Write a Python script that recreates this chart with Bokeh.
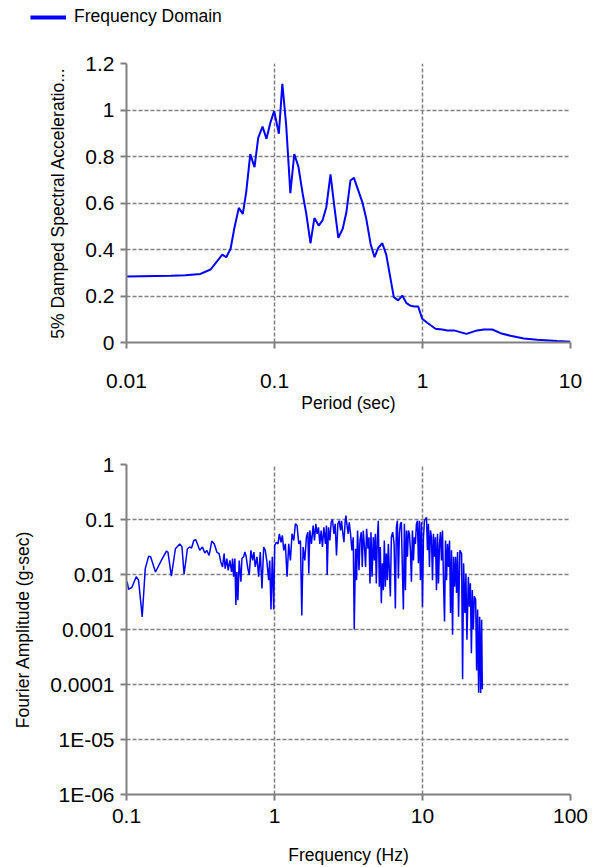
from bokeh.plotting import figure
from bokeh.models import (Range1d, FixedTicker, CustomJSTickFormatter, Legend,
                          LegendItem)
from bokeh.layouts import column
from bokeh.embed import file_html
from bokeh.resources import INLINE

FONT = "Liberation Sans"
BLUE = "#0000ff"
GRAY = "#808080"

# ---------------- data: response spectrum ----------------
period = [0.01, 0.02, 0.025, 0.0316, 0.037, 0.0444, 0.0472, 0.0505, 0.0537, 0.0574,
          0.0611, 0.0644, 0.0686, 0.0733, 0.0776, 0.083, 0.0883, 0.094, 0.0995, 0.107,
          0.113, 0.12, 0.128, 0.136, 0.145, 0.155, 0.164, 0.175, 0.186, 0.199,
          0.211, 0.224, 0.239, 0.254, 0.27, 0.289, 0.306, 0.326, 0.344, 0.368,
          0.392, 0.417, 0.446, 0.474, 0.502, 0.535, 0.569, 0.64, 0.685, 0.73,
          0.78, 0.83, 0.883, 0.935, 0.995, 1.076, 1.224, 1.36, 1.47, 1.63,
          1.98, 2.34, 2.6, 2.96, 3.37, 3.93, 4.83, 5.95, 8.13, 10.0]
spectral_acc = [0.284, 0.287, 0.289, 0.295, 0.314, 0.378, 0.367, 0.403, 0.496, 0.579,
                0.553, 0.647, 0.81, 0.754, 0.88, 0.929, 0.876, 0.948, 0.995, 0.898,
                1.113, 0.933, 0.642, 0.81, 0.757, 0.64, 0.553, 0.427, 0.535, 0.503,
                0.525, 0.582, 0.723, 0.582, 0.45, 0.489, 0.56, 0.697, 0.708, 0.654,
                0.604, 0.532, 0.424, 0.367, 0.407, 0.427, 0.378, 0.195, 0.181, 0.202,
                0.169, 0.158, 0.155, 0.155, 0.102, 0.085, 0.059, 0.056, 0.052, 0.052,
                0.037, 0.052, 0.056, 0.056, 0.04, 0.029, 0.017, 0.012, 0.006, 0.003]

# ---------------- data: Fourier amplitude spectrum ----------------
fourier_freq = [
    0.101, 0.1032, 0.1086, 0.1164, 0.1206, 0.1277, 0.1339, 0.141, 0.1455, 0.157,
    0.172, 0.186, 0.1906, 0.201, 0.214, 0.229, 0.237, 0.245, 0.258, 0.267,
    0.275, 0.285, 0.2936, 0.3014, 0.3126, 0.326, 0.338, 0.3486, 0.3614, 0.377,
    0.392, 0.4078, 0.4225, 0.4338, 0.4455, 0.4568, 0.4639, 0.4764, 0.4862, 0.4993,
    0.5127, 0.5208, 0.529, 0.5398, 0.5483, 0.557, 0.5657, 0.5774, 0.593, 0.6024,
    0.6185, 0.631, 0.644, 0.658, 0.675, 0.693, 0.7116, 0.7261, 0.741, 0.7611,
    0.7815, 0.8012, 0.823, 0.845, 0.866, 0.889, 0.913, 0.928, 0.947, 0.966,
    0.988, 1.003, 1.029, 1.056, 1.078, 1.107, 1.130, 1.155, 1.184, 1.216,
    1.248, 1.281, 1.314, 1.350, 1.384, 1.421, 1.459, 1.497, 1.529, 1.560,
    1.602, 1.643, 1.680, 1.705, 1.732, 1.776, 1.824, 1.862, 1.902, 1.941,
    1.982, 2.025, 2.066, 2.108, 2.155, 2.210, 2.244, 2.269, 2.316, 2.366,
    2.415, 2.465, 2.519, 2.571, 2.623, 2.681, 2.736, 2.794, 2.836, 2.881,
    2.945, 3.005, 3.038, 3.100, 3.149, 3.198, 3.264, 3.336, 3.404, 3.458,
    3.529, 3.585, 3.641, 3.723, 3.781, 3.857, 3.918, 3.979, 4.061, 4.125,
    4.190, 4.282, 4.349, 4.418, 4.487, 4.559, 4.652, 4.725, 4.800, 4.875,
    4.951, 5.029, 5.108, 5.189, 5.270, 5.353, 5.437, 5.523, 5.609, 5.698,
    5.787, 5.878, 5.971, 6.064, 6.160, 6.290, 6.431, 6.557, 6.660, 6.765,
    6.872, 6.980, 7.089, 7.200, 7.313, 7.428, 7.545, 7.663, 7.784, 7.906,
    8.031, 8.157, 8.285, 8.417, 8.549, 8.684, 8.820, 8.959, 9.100, 9.243,
    9.388, 9.536, 9.686, 9.838, 9.993, 10.15, 10.31, 10.47, 10.64, 10.80,
    10.97, 11.14, 11.32, 11.50, 11.68, 11.86, 12.05, 12.24, 12.43, 12.63,
    12.82, 13.03, 13.23, 13.44, 13.65, 13.87, 14.09, 14.31, 14.53, 14.76,
    15.00, 15.23, 15.47, 15.71, 15.96, 16.21, 16.47, 16.73, 16.99, 17.26,
    17.53, 17.89, 18.37, 18.66, 18.95, 19.35, 19.65, 19.96, 20.41, 20.73,
    21.06, 21.39, 21.71, 22.05, 22.40, 22.86, 23.22, 23.58, 23.95, 24.33,
    24.71, 25.09, 25.37]
fourier_amp = [
    0.0074, 0.0054, 0.0058, 0.0091, 0.0079, 0.0017, 0.0128, 0.0214, 0.021, 0.0111,
    0.018, 0.0267, 0.0256, 0.0093, 0.0294, 0.036, 0.032, 0.0101, 0.0294, 0.0316,
    0.0303, 0.0416, 0.043, 0.036, 0.0275, 0.0316, 0.0245, 0.0275, 0.0222, 0.0405,
    0.036, 0.0256, 0.024, 0.0169, 0.0137, 0.024, 0.0128, 0.0195, 0.0119, 0.018,
    0.0111, 0.0195, 0.0091, 0.0195, 0.0028, 0.0111, 0.0034, 0.018, 0.0074, 0.0195,
    0.021, 0.0256, 0.021, 0.0137, 0.0098, 0.0275, 0.018, 0.0256, 0.0137, 0.021,
    0.0091, 0.0256, 0.0056, 0.0316, 0.0275, 0.0169, 0.0079, 0.018, 0.0023, 0.021,
    0.0023, 0.0339, 0.0386, 0.036, 0.055, 0.0386, 0.0512, 0.0275, 0.036, 0.0091,
    0.036, 0.018, 0.055, 0.0416, 0.0833, 0.0776, 0.036, 0.0416, 0.0018, 0.0316,
    0.018, 0.0475, 0.0588, 0.0104, 0.0632, 0.036, 0.0776, 0.0416, 0.0833, 0.055,
    0.0722, 0.036, 0.0632, 0.0316, 0.0722, 0.036, 0.0776, 0.0098, 0.0722, 0.0416,
    0.0891, 0.1, 0.055, 0.0833, 0.0222, 0.0833, 0.095, 0.0632, 0.095, 0.0632,
    0.0386, 0.095, 0.1175, 0.0722, 0.055, 0.0891, 0.055, 0.0275, 0.0475, 0.001,
    0.0294, 0.0079, 0.0632, 0.0119, 0.0416, 0.0588, 0.0137, 0.0632, 0.0294, 0.0137,
    0.0676, 0.0294, 0.0475, 0.0069, 0.0588, 0.0091, 0.0475, 0.018, 0.055, 0.0069,
    0.0445, 0.095, 0.006, 0.0316, 0.003, 0.016, 0.0052, 0.0416, 0.006, 0.024,
    0.0079, 0.036, 0.0119, 0.004, 0.0475, 0.0588, 0.036, 0.0024, 0.0722, 0.095,
    0.0085, 0.055, 0.0833, 0.0891, 0.0119, 0.0023, 0.0833, 0.0052, 0.0632, 0.021,
    0.0632, 0.055, 0.0275, 0.0074, 0.0632, 0.018, 0.0475, 0.036, 0.0833, 0.095,
    0.016, 0.095, 0.0079, 0.0891, 0.0026, 0.0475, 0.095, 0.1025, 0.1096, 0.0275,
    0.0833, 0.0137, 0.0632, 0.0475, 0.0079, 0.055, 0.021, 0.0475, 0.0052, 0.055,
    0.0069, 0.036, 0.0588, 0.018, 0.0632, 0.0069, 0.0014, 0.0416, 0.0079, 0.036,
    0.0137, 0.0416, 0.002, 0.0275, 0.0008, 0.021, 0.006, 0.021, 0.0046, 0.0256,
    0.0017, 0.0275, 0.024, 0.000124, 0.016, 0.002, 0.0104, 0.00065, 0.0091, 0.0026,
    0.0069, 0.00037, 0.0052, 0.001, 0.004, 0.0035, 0.00018, 0.0023, 0.0000711, 0.0017,
    0.00007, 0.0015, 0.000082]

# ---------------- ticks / labels ----------------
sa_xticks = [0.01, 0.1, 1, 10]
sa_xlabels = ["0.01", "0.1", "1", "10"]
sa_yticks = [0, 0.2, 0.4, 0.6, 0.8, 1, 1.2]
sa_ylabels = ["0", "0.2", "0.4", "0.6", "0.8", "1", "1.2"]
fa_xticks = [0.1, 1, 10, 100]
fa_xlabels = ["0.1", "1", "10", "100"]
fa_yticks = [1e-6, 1e-5, 1e-4, 1e-3, 1e-2, 1e-1, 1]
fa_ylabels = ["1E-06", "1E-05", "0.0001", "0.001", "0.01", "0.1", "1"]

legend_label = "Frequency Domain"
sa_xtitle = "Period (sec)"
sa_ytitle = "5% Damped Spectral Acceleratio..."
fa_xtitle = "Frequency (Hz)"
fa_ytitle = "Fourier Amplitude (g-sec)"

FMT_CODE = """
let best = 0, bd = Infinity;
for (let i = 0; i < tvals.length; i++) {
  const d = Math.abs(tvals[i] - tick) / (Math.abs(tvals[i]) + 1e-12);
  if (d < bd) { bd = d; best = i; }
}
return tlabels[best];
"""


def fmt(tv, tl):
    return CustomJSTickFormatter(args=dict(tvals=tv, tlabels=tl), code=FMT_CODE)


def style_axis(ax, tv, tl, title, label_standoff, title_standoff):
    ax.ticker = FixedTicker(ticks=tv)
    ax.formatter = fmt(tv, tl)
    ax.axis_label = title
    ax.axis_line_color = GRAY
    ax.axis_line_width = 2
    ax.major_tick_line_color = GRAY
    ax.major_tick_line_width = 2
    ax.major_tick_out = 6
    ax.major_tick_in = 0
    ax.minor_tick_line_color = None
    ax.major_label_text_font = FONT
    ax.major_label_text_font_size = "21px"
    ax.major_label_text_color = "#000000"
    ax.major_label_standoff = label_standoff
    ax.axis_label_text_font = FONT
    ax.axis_label_text_font_size = "17.5px"
    ax.axis_label_text_font_style = "normal"
    ax.axis_label_text_color = "#000000"
    ax.axis_label_standoff = title_standoff


def style_grid(p):
    for g in (p.xgrid, p.ygrid):
        g.grid_line_color = GRAY
        g.grid_line_dash = "4 2"
        g.grid_line_width = 1.5
    p.outline_line_color = None
    p.background_fill_color = "white"
    p.border_fill_color = "white"


W = 596

# ---------------- legend strip ----------------
pl = figure(width=W, height=26, title=None, output_backend="svg",
            toolbar_location=None, x_axis_location=None, y_axis_location=None,
            x_range=Range1d(0, 1), y_range=Range1d(0, 1),
            min_border_left=30, min_border_top=6, min_border_right=0,
            min_border_bottom=0)
pl.grid.visible = False
pl.outline_line_color = None
legend_glyph = pl.line(x=[float("nan")], y=[float("nan")], line_color=BLUE,
                       line_width=4)
leg = Legend(items=[LegendItem(label=legend_label, renderers=[legend_glyph])],
             location="top_left", padding=0, margin=0, spacing=0,
             border_line_color=None, background_fill_alpha=0,
             glyph_width=36, glyph_height=14, label_height=14,
             label_standoff=8, label_text_font=FONT,
             label_text_font_size="17.5px", label_text_color="#000000")
pl.add_layout(leg, "center")

# ---------------- response spectrum ----------------
p1 = figure(width=W, height=396, x_axis_type="log",
            x_range=Range1d(0.01, 10), y_range=Range1d(0, 1.2),
            output_backend="svg", toolbar_location=None,
            min_border_left=126, min_border_right=26,
            min_border_top=37, min_border_bottom=80)
p1.line(period, spectral_acc, line_color=BLUE, line_width=2)
style_axis(p1.xaxis[0], sa_xticks, sa_xlabels, sa_xtitle, 25, 2)
style_axis(p1.yaxis[0], sa_yticks, sa_ylabels, sa_ytitle, 6, 14)
style_grid(p1)

# ---------------- Fourier amplitude ----------------
p2 = figure(width=W, height=445, x_axis_type="log", y_axis_type="log",
            x_range=Range1d(0.1, 100), y_range=Range1d(1e-6, 1),
            output_backend="svg", toolbar_location=None,
            min_border_left=126, min_border_right=26,
            min_border_top=42, min_border_bottom=72)
p2.line(fourier_freq, fourier_amp, line_color=BLUE, line_width=1.5)
style_axis(p2.xaxis[0], fa_xticks, fa_xlabels, fa_xtitle, 8, 19)
style_axis(p2.yaxis[0], fa_yticks, fa_ylabels, fa_ytitle, 6, 14)
style_grid(p2)

layout = column(pl, column(p1, p2))
open("out.html", "w").write(file_html(layout, INLINE))
